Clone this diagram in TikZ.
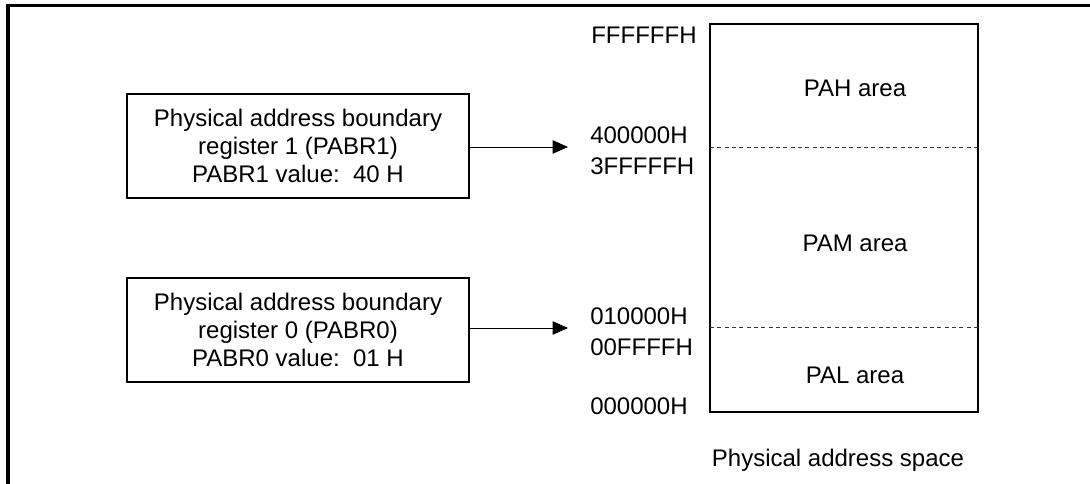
\documentclass[tikz,border=0pt]{standalone}
\usepackage{fontspec}
\setmainfont{Liberation Sans}
\usetikzlibrary{arrows.meta}
\begin{document}
\begin{tikzpicture}[x=0.75pt,y=-0.75pt,
  txt/.style={font=\fontsize{18}{21}\selectfont, inner sep=0pt},
  regbox/.style={draw, line width=0.8pt, minimum width=342*0.75pt, minimum height=104*0.75pt, align=center, font=\fontsize{18}{21}\selectfont},
  conn/.style={line width=0.7pt, -{Triangle[length=11.5pt,width=10pt]}},
  bound/.style={line width=0.6pt, dash pattern=on 3pt off 2.5pt, draw=black!80}]
\useasboundingbox (0,0) rectangle (1090,484);
\draw[line width=2.3pt] (8,484) -- (8,5.5) -- (1090,5.5);
% memory map
\node[draw, line width=0.8pt, minimum width=268*0.75pt, minimum height=388*0.75pt, inner sep=0pt] (mem) at (844,218) {};
\coordinate (b1l) at (710,147); \coordinate (b1r) at (978,147);
\coordinate (b0l) at (710,327); \coordinate (b0r) at (978,327);
\draw[bound] (b1l) -- (b1r);
\draw[bound] (b0l) -- (b0r);
\node[txt] (pah) at (855,88) {PAH area};
\node[txt] (pam) at (855,243) {PAM area};
\node[txt] (pal) at (855,375) {PAL area};
\node[txt] (cap) at (838,460) {Physical address space};
% address labels
\node[txt, anchor=west] (a1) at (591,35) {FFFFFFH};
\node[txt, anchor=west] (a2) at (590,135) {400000H};
\node[txt, anchor=west] (a3) at (590,166) {3FFFFFH};
\node[txt, anchor=west] (a4) at (590,316) {010000H};
\node[txt, anchor=west] (a5) at (590,347) {00FFFFH};
\node[txt, anchor=west] (a6) at (590,406) {000000H};
% registers
\node[regbox] (r1) at (298,146) {Physical address boundary\\register 1 (PABR1)\\PABR1 value:\ \ 40 H};
\node[regbox] (r0) at (298,330) {Physical address boundary\\register 0 (PABR0)\\PABR0 value:\ \ 01 H};
\coordinate (t1) at (568,147);
\coordinate (t0) at (568,328);
\draw[conn] (r1.east |- t1) -- (t1);
\draw[conn] (r0.east |- t0) -- (t0);
\end{tikzpicture}
\end{document}
